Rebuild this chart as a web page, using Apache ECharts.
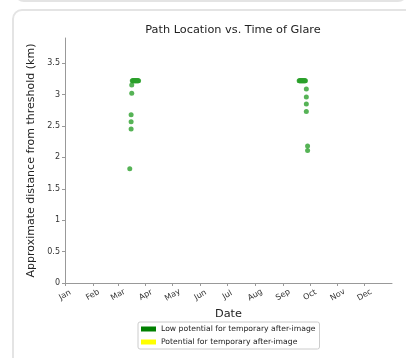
<!DOCTYPE html>
<html>
<head>
<meta charset="utf-8">
<script src="https://cdn.jsdelivr.net/npm/echarts@6/dist/echarts.min.js"></script>
<style>
  html, body { margin: 0; padding: 0; background: #fff; overflow: hidden; }
  #wrap { position: relative; width: 406px; height: 358px; overflow: hidden; }
  .card { position: absolute; border: 2px solid #e4e4e4; border-radius: 10px; background: #fff; }
  #chart { position: absolute; left: 0; top: 0; width: 406px; height: 358px; }
</style>
</head>
<body>
<div id="wrap">
  <div class="card" style="left:14px; top:-30px; width:390px; height:28px;"></div>
  <div class="card" style="left:12px; top:9px; width:420px; height:400px;"></div>
  <div id="chart"></div>
</div>
<script>
// Month tick labels and their day-of-year positions (day 0 = Jan 1)
const monthLabels = ['Jan','Feb','Mar','Apr','May','Jun','Jul','Aug','Sep','Oct','Nov','Dec'];
const monthStarts = [0, 31, 59, 90, 120, 151, 181, 212, 243, 273, 304, 334];
const yTicks = [0, 0.5, 1, 1.5, 2, 2.5, 3, 3.5];

// Glare points: day of year and distance from threshold (km)
const marchDays   = [72.2, 73.7, 73.7, 73.7, 74.4, 74.4, 75, 75.5, 76, 76.5, 77, 77.5, 78, 78.5, 79, 79.5, 80, 80.5, 81, 81.5, 82];
const marchValues = [1.82, 2.45, 2.565, 2.68, 3.02, 3.15, 3.22, 3.22, 3.22, 3.22, 3.22, 3.22, 3.22, 3.22, 3.22, 3.22, 3.22, 3.22, 3.22, 3.22, 3.22];
const septDays    = [261, 261.5, 262, 262.5, 263, 263.5, 264, 264.5, 265, 265.5, 266, 266.5, 267, 267.5, 268, 269, 269, 269, 269, 270.4, 270.4];
const septValues  = [3.22, 3.22, 3.22, 3.22, 3.22, 3.22, 3.22, 3.22, 3.22, 3.22, 3.22, 3.22, 3.22, 3.22, 3.22, 3.09, 2.96, 2.85, 2.73, 2.18, 2.11];

const legendNames = ['Low potential for temporary after-image', 'Potential for temporary after-image'];

const points = marchDays.map((d, i) => [d, marchValues[i]])
  .concat(septDays.map((d, i) => [d, septValues[i]]));

const chart = echarts.init(document.getElementById('chart'), null, { renderer: 'canvas' });
const font = 'DejaVu Sans';
chart.setOption({
  animation: false,
  backgroundColor: 'transparent',
  textStyle: { fontFamily: font },
  title: {
    text: 'Path Location vs. Time of Glare',
    left: 228, top: 20, textAlign: 'center',
    textStyle: { fontFamily: font, fontSize: 11.3, fontWeight: 'normal', color: '#222' }
  },
  grid: { left: 65, right: 14, top: 38, bottom: 75, containLabel: false },
  xAxis: {
    type: 'value', min: 0, max: 364.5,
    name: 'Date', nameLocation: 'middle', nameGap: 26,
    nameTextStyle: { fontFamily: font, fontSize: 11.3, color: '#222' },
    axisLine: { show: true, lineStyle: { color: '#999', width: 1 } },
    axisTick: { show: true, length: 3, lineStyle: { color: '#999' }, customValues: monthStarts },
    axisLabel: {
      customValues: monthStarts, rotate: 30, fontSize: 8, color: '#333', margin: 12,
      align: 'center', verticalAlign: 'middle',
      formatter: v => monthLabels[monthStarts.indexOf(Math.round(v))] || ''
    },
    splitLine: { show: false }
  },
  yAxis: {
    type: 'value', min: 0, max: 3.9,
    name: 'Approximate distance from threshold (km)', nameLocation: 'middle', nameGap: 27,
    nameTextStyle: { fontFamily: font, fontSize: 11, color: '#222' },
    axisLine: { show: true, lineStyle: { color: '#999', width: 1 } },
    axisTick: { show: true, length: 3, lineStyle: { color: '#999' }, customValues: yTicks },
    axisLabel: { customValues: yTicks, fontSize: 8, color: '#333', margin: 5 },
    splitLine: { show: false }
  },
  legend: {
    data: legendNames, orient: 'vertical', left: 138, top: 322,
    itemWidth: 15, itemHeight: 5, itemGap: 5, icon: 'rect',
    padding: [3, 4, 3, 3], borderColor: '#ccc', borderWidth: 1, borderRadius: 2,
    textStyle: { fontFamily: font, fontSize: 7.7, color: '#222' }
  },
  series: [
    { name: legendNames[0], type: 'bar', data: [], itemStyle: { color: '#008000' } },
    { name: legendNames[1], type: 'bar', data: [], itemStyle: { color: '#ffff00' } },
    {
      name: 'glare', type: 'scatter', data: points, symbolSize: 5,
      itemStyle: { color: '#2ca02c' }
    }
  ]
});
</script>
</body>
</html>
